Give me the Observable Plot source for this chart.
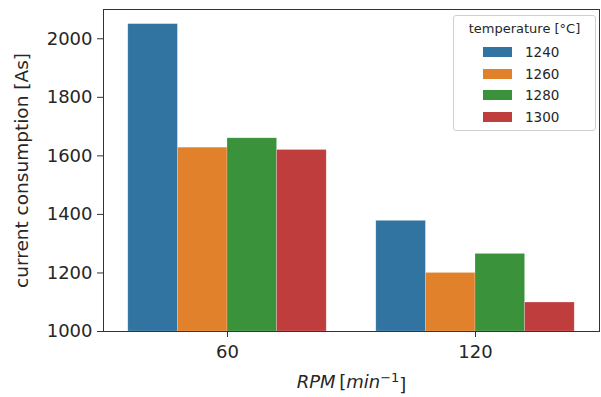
<!DOCTYPE html>
<html>
<head>
<meta charset="utf-8">
<script src="https://cdn.jsdelivr.net/npm/d3@7"></script>
<script src="https://cdn.jsdelivr.net/npm/@observablehq/plot@0.6"></script>
<style>
  body { margin: 0; background: #fff; }
  #wrap { position: relative; width: 601px; height: 397px; font-family: "DejaVu Sans", sans-serif; }
  #legend { position: absolute; left: 453px; top: 15px; width: 143px; height: 116px;
    border: 1px solid #d0d0d0; border-radius: 3px; background: rgba(255,255,255,0.85); box-sizing: border-box; }
  #legend .title { font-size: 13px; color: #262626; text-align: center; margin-top: 5px; margin-bottom: 5px; }
  #legend .row { display: flex; align-items: center; height: 21.8px; }
  #legend .sw { width: 29px; height: 10px; margin-left: 29px; margin-right: 13px; }
  #legend .lab { font-size: 13.5px; color: #262626; }
</style>
</head>
<body>
<div id="wrap"></div>
<script>
// categories
const rpm = ["60", "120"];
const temperatures = ["1240", "1260", "1280", "1300"];
// series values (current consumption [As]) per temperature, ordered as rpm
const v1240 = [2050, 1378];
const v1260 = [1628, 1200];
const v1280 = [1660, 1265];
const v1300 = [1620, 1099];
const yTicks = [1000, 1200, 1400, 1600, 1800, 2000];
const colors = ["#3274a1", "#e1812c", "#3a923a", "#c03d3e"];
const yLabel = "current consumption [As]";
const xLabel = "RPM [min-1]";

const series = [v1240, v1260, v1280, v1300];
const data = [];
rpm.forEach((r, i) => {
  temperatures.forEach((t, j) => {
    data.push({rpm: r, gi: i, temp: t, hi: j, value: series[j][i]});
  });
});
const groupWidth = 0.8;
const barW = groupWidth / temperatures.length;

const chart = Plot.plot({
  width: 601,
  height: 397,
  marginLeft: 103,
  marginRight: 2,
  marginTop: 9,
  marginBottom: 66,
  style: {fontFamily: "DejaVu Sans, sans-serif", color: "#262626", background: "white"},
  x: {type: "linear", domain: [-0.5, rpm.length - 0.5], axis: null},
  y: {domain: [1000, 2100], axis: null},
  color: {domain: temperatures, range: colors},
  marks: [
    Plot.rect(data, {
      x1: d => d.gi - groupWidth / 2 + d.hi * barW,
      x2: d => d.gi - groupWidth / 2 + (d.hi + 1) * barW,
      y1: () => 1000,
      y2: "value",
      fill: "temp",
      stroke: "white",
      strokeOpacity: 0.35,
      strokeWidth: 0.6
    }),
    Plot.axisY(yTicks, {tickSize: 6, tickPadding: 5, fontSize: 18, label: null, stroke: "#333", color: "#262626",
      tickFormat: d3.format("d")}),
    Plot.axisX(rpm.map((r, i) => i), {tickSize: 6, tickPadding: 8, fontSize: 18, label: null,
      tickFormat: i => rpm[i], stroke: "#333"}),
    Plot.frame({stroke: "#333", strokeWidth: 1}),
    Plot.text([yLabel], {frameAnchor: "left", dx: -81, dy: 0, rotate: -90, fontSize: 18.5, fill: "#262626",
      text: d => d, lineAnchor: "middle", textAnchor: "middle"}),
    Plot.text([xLabel], {frameAnchor: "bottom", dy: 51, fontSize: 18, fill: "#262626",
      text: d => d, lineAnchor: "middle"})
  ]
});
const wrap = document.getElementById("wrap");
wrap.appendChild(chart);

// mathtext-like x label: italic letters, upright brackets, superscript -1
d3.select(chart).selectAll("text").filter(function() { return this.textContent === xLabel; })
  .each(function() {
    const t = d3.select(this);
    t.text(null);
    t.append("tspan").attr("font-style", "italic").text("RPM");
    t.append("tspan").text("\u2009[");
    t.append("tspan").attr("font-style", "italic").text("min");
    t.append("tspan").attr("font-size", "13px").attr("dy", "-0.45em").text("\u22121");
    t.append("tspan").attr("dy", "0.45em").text("]");
  });

// legend
const legend = document.createElement("div");
legend.id = "legend";
const title = document.createElement("div");
title.className = "title";
title.textContent = "temperature [°C]";
legend.appendChild(title);
temperatures.forEach((t, j) => {
  const row = document.createElement("div");
  row.className = "row";
  const sw = document.createElement("span");
  sw.className = "sw";
  sw.style.background = colors[j];
  const lab = document.createElement("span");
  lab.className = "lab";
  lab.textContent = t;
  row.appendChild(sw);
  row.appendChild(lab);
  legend.appendChild(row);
});
wrap.appendChild(legend);
</script>
</body>
</html>
